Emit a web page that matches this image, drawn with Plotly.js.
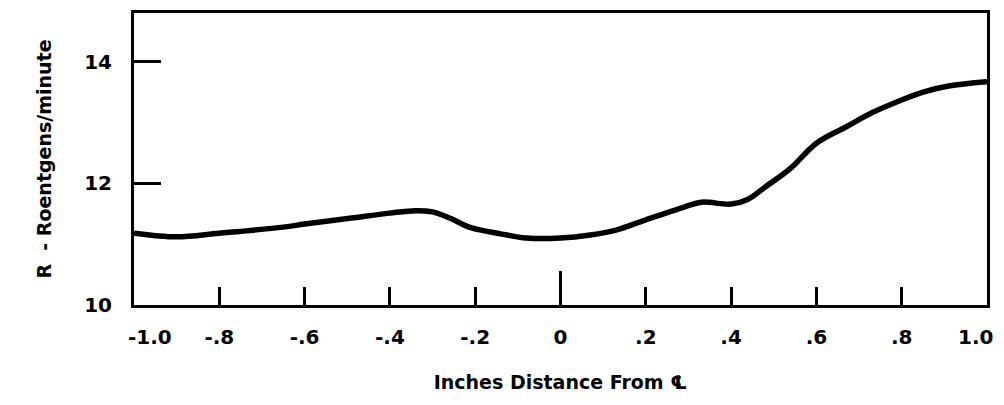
<!DOCTYPE html>
<html>
<head>
<meta charset="utf-8">
<script src="https://cdn.plot.ly/plotly-3.0.1.min.js"></script>
<style>html,body{margin:0;padding:0;background:#fff;}#chart{width:1004px;height:405px;}</style>
</head>
<body>
<div id="chart"></div>
<script>
// Distance from centre line (inches)
const distance = [-1.00, -0.90, -0.80, -0.65, -0.60, -0.49, -0.40, -0.34, -0.30, -0.26, -0.21, -0.14, -0.08, 0.00, 0.07, 0.13, 0.20, 0.29, 0.33, 0.40, 0.44, 0.48, 0.54, 0.60, 0.67, 0.73, 0.80, 0.85, 0.91, 1.00];
// Dose rate R (Roentgens/minute)
const roentgens = [11.18, 11.12, 11.18, 11.28, 11.33, 11.43, 11.51, 11.55, 11.53, 11.43, 11.27, 11.17, 11.10, 11.10, 11.15, 11.23, 11.40, 11.61, 11.69, 11.66, 11.74, 11.94, 12.25, 12.66, 12.93, 13.16, 13.37, 13.50, 13.60, 13.67];

const xTickVals = [-1.0, -0.8, -0.6, -0.4, -0.2, 0, 0.2, 0.4, 0.6, 0.8, 1.0];
const xTickText = ['-1.0', '-.8', '-.6', '-.4', '-.2', '0', '.2', '.4', '.6', '.8', '1.0'];
const yTickVals = [10, 12, 14];
const yTickText = ['10', '12', '14'];
const centreTick = [0];

const tickFont = {family: 'DejaVu Sans, sans-serif', size: 20, color: '#000', weight: 'bold'};
const titleFont = {family: 'DejaVu Sans, sans-serif', size: 19, color: '#000', weight: 'bold'};

// interior labels drawn by the axis; the two end labels sit slightly inside the frame
const axisTickText = xTickText.map((t, i) => (i === 0 || i === xTickText.length - 1) ? '' : t);
const endIdx = [0, xTickText.length - 1];
const endShift = [16, -12];
const annotations = endIdx.map((i, k) => ({
  x: xTickVals[i], xref: 'x', y: 0, yref: 'paper',
  text: xTickText[i], showarrow: false,
  xanchor: 'center', yanchor: 'middle',
  xshift: endShift[k], yshift: -32,
  font: tickFont
}));

const trace = {
  x: distance,
  y: roentgens,
  type: 'scatter',
  mode: 'lines',
  line: {color: '#000', width: 5.5, shape: 'spline', smoothing: 1},
  hoverinfo: 'skip',
  showlegend: false
};

const trace2 = {x: centreTick, y: [10], xaxis: 'x2', yaxis: 'y', mode: 'none', type: 'scatter', hoverinfo: 'skip', showlegend: false};

const layout = {
  width: 1004,
  height: 405,
  margin: {l: 134, r: 17, t: 13, b: 100},
  paper_bgcolor: '#fff',
  plot_bgcolor: '#fff',
  font: tickFont,
  showlegend: false,
  annotations: annotations,
  xaxis: {
    range: [-1.0, 1.0],
    tickvals: xTickVals,
    ticktext: axisTickText,
    ticks: 'inside',
    ticklen: 18,
    tickwidth: 3,
    tickcolor: '#000',
    ticklabelstandoff: 12,
    showgrid: false,
    zeroline: false,
    showline: true,
    linewidth: 3,
    linecolor: '#000',
    mirror: true,
    tickfont: tickFont,
    title: {text: 'Inches Distance From \u2104', font: titleFont, standoff: 28}
  },
  xaxis2: {
    overlaying: 'x',
    anchor: 'y',
    side: 'bottom',
    range: [-1.0, 1.0],
    tickvals: centreTick,
    ticks: 'inside',
    ticklen: 34,
    tickwidth: 3,
    tickcolor: '#000',
    showticklabels: false,
    showgrid: false,
    zeroline: false,
    showline: false
  },
  yaxis: {
    range: [10, 14.8],
    tickvals: yTickVals,
    ticktext: yTickText,
    ticks: 'inside',
    ticklen: 27,
    tickwidth: 3,
    tickcolor: '#000',
    ticklabelstandoff: 15,
    showgrid: false,
    zeroline: false,
    showline: true,
    linewidth: 3,
    linecolor: '#000',
    mirror: true,
    tickfont: tickFont,
    title: {text: 'R  - Roentgens/minute', font: titleFont, standoff: 28}
  }
};

Plotly.newPlot('chart', [trace, trace2], layout, {displayModeBar: false, staticPlot: true});
</script>
</body>
</html>
